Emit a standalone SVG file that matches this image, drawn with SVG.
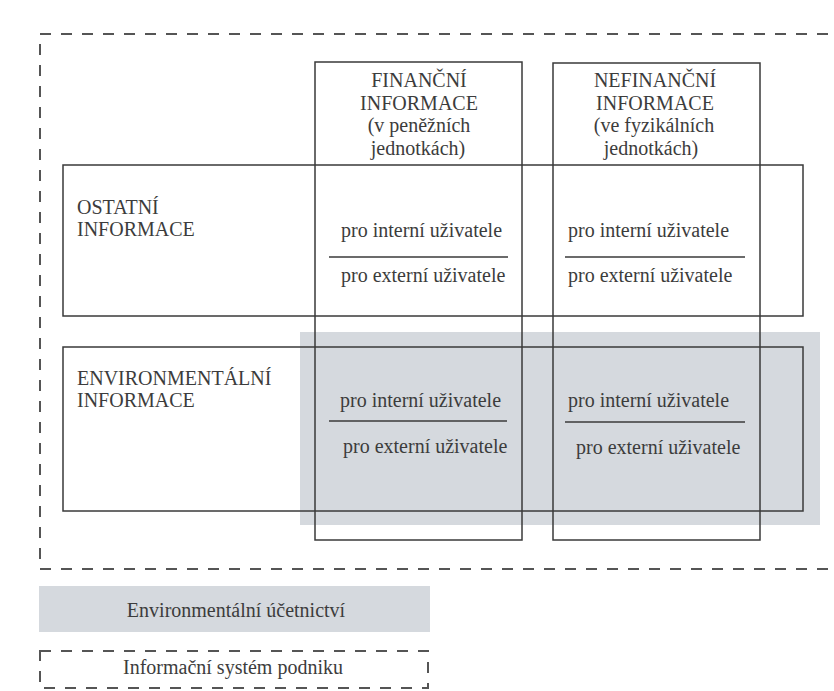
<svg xmlns="http://www.w3.org/2000/svg" width="834" height="691" viewBox="0 0 834 691">
<style>
text{font-family:"Liberation Serif","Times New Roman",serif;font-size:20px;fill:#3c3c3c}
.c{text-anchor:middle}
.box{fill:none;stroke:#3a3a3a;stroke-width:1.5}
.dash{fill:none;stroke:#555;stroke-width:2;stroke-dasharray:11 10}
.sep{stroke:#3a3a3a;stroke-width:1.5}
.shade{fill:#d5d9de}
</style>
<rect width="834" height="691" fill="#ffffff"/>
<g id="outer-system">
<rect class="dash" x="40" y="34" width="830" height="535"/>
</g>
<g id="environmental-shade">
<rect class="shade" x="300" y="332" width="520" height="193"/>
</g>
<g id="col-financni">
<rect class="box" x="315" y="62" width="207" height="478"/>
<text class="c" x="419" y="87">FINANČNÍ</text>
<text class="c" x="419" y="110">INFORMACE</text>
<text class="c" x="419" y="132">(v peněžních</text>
<text class="c" x="418" y="155">jednotkách)</text>
</g>
<g id="col-nefinancni">
<rect class="box" x="553" y="63" width="207" height="477"/>
<text class="c" x="655" y="87">NEFINANČNÍ</text>
<text class="c" x="655" y="110">INFORMACE</text>
<text class="c" x="654" y="132">(ve fyzikálních</text>
<text class="c" x="651" y="155">jednotkách)</text>
</g>
<g id="row-ostatni">
<rect class="box" x="63" y="165" width="740" height="151"/>
<text x="77" y="214">OSTATNÍ</text>
<text x="77" y="236">INFORMACE</text>
</g>
<g id="cell-ostatni-fin">
<text x="341" y="237">pro interní uživatele</text>
<line class="sep" x1="329" y1="257" x2="508" y2="257"/>
<text x="341" y="282">pro externí uživatele</text>
</g>
<g id="cell-ostatni-nefin">
<text x="568" y="237">pro interní uživatele</text>
<line class="sep" x1="565" y1="257" x2="745" y2="257"/>
<text x="568" y="282">pro externí uživatele</text>
</g>
<g id="row-environmentalni">
<rect class="box" x="63" y="347" width="740" height="164"/>
<text x="77" y="385">ENVIRONMENTÁLNÍ</text>
<text x="77" y="407">INFORMACE</text>
</g>
<g id="cell-env-fin">
<text x="340" y="407">pro interní uživatele</text>
<line class="sep" x1="329" y1="421" x2="507" y2="421"/>
<text x="343" y="453">pro externí uživatele</text>
</g>
<g id="cell-env-nefin">
<text x="568" y="407">pro interní uživatele</text>
<line class="sep" x1="565" y1="422" x2="745" y2="422"/>
<text x="576" y="454">pro externí uživatele</text>
</g>
<g id="legend-env-accounting">
<rect class="shade" x="39" y="586" width="391" height="46"/>
<text class="c" x="236" y="617">Environmentální účetnictví</text>
</g>
<g id="legend-info-system">
<rect class="dash" x="40" y="651" width="388" height="37"/>
<text class="c" x="233" y="674">Informační systém podniku</text>
</g>
</svg>
